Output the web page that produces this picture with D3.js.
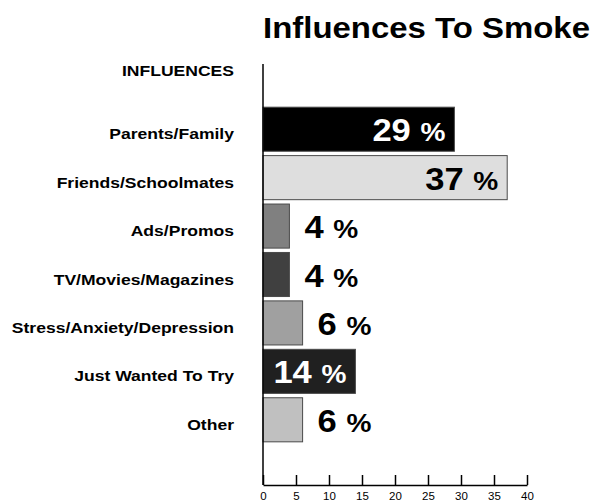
<!DOCTYPE html>
<html>
<head>
<meta charset="utf-8">
<script src="https://cdn.jsdelivr.net/npm/d3@7"></script>
<style>
  html, body { margin: 0; padding: 0; background: #fff; }
  svg { display: block; font-family: "Liberation Sans", Arial, Helvetica, sans-serif; }
</style>
</head>
<body>
<svg id="chart" width="594" height="504"></svg>
<script>
// Survey: reported influences to start smoking (percent of respondents)
const categories = [
  "Parents/Family",
  "Friends/Schoolmates",
  "Ads/Promos",
  "TV/Movies/Magazines",
  "Stress/Anxiety/Depression",
  "Just Wanted To Try",
  "Other"
];
const values = [29, 37, 4, 4, 6, 14, 6];
const fills = ["#000000", "#dedede", "#808080", "#404040", "#a0a0a0", "#202020", "#c0c0c0"];
const xTicks = [0, 5, 10, 15, 20, 25, 30, 35, 40];

const svg = d3.select("#chart");

const x = d3.scaleLinear().domain([0, 40]).range([263, 527]);
const y = d3.scaleBand().domain(categories).range([105, 444]).paddingInner(0.09).paddingOuter(0.045);

// Wide lettering: horizontally stretched type
const place = (sel, px, py, sx) => sel.attr("transform", `translate(${px},${py}) scale(${sx},1)`);

// Title, stretched to span from the axis to the right edge
const title = svg.append("text")
  .attr("font-size", 30).attr("font-weight", "bold")
  .attr("fill", "#000")
  .text("Influences To Smoke");
const tw = title.node().getComputedTextLength();
place(title, 263, 38, 327 / tw);

// Axis heading
place(svg.append("text")
  .attr("text-anchor", "end")
  .attr("font-size", 15).attr("font-weight", "bold")
  .text("INFLUENCES"), 234, 76, 1.17);

// Bars
const rows = categories.map((c, i) => ({ cat: c, value: values[i], fill: fills[i] }));

svg.append("g").selectAll("rect").data(rows).join("rect")
  .attr("x", x(0))
  .attr("y", d => y(d.cat))
  .attr("width", d => x(d.value) - x(0))
  .attr("height", y.bandwidth())
  .attr("fill", d => d.fill)
  .attr("stroke", "#4a4a4a")
  .attr("stroke-width", 1);

// Category labels
svg.append("g").selectAll("text").data(rows).join("text")
  .attr("text-anchor", "end")
  .attr("font-size", 15).attr("font-weight", "bold")
  .attr("fill", "#000")
  .attr("transform", d => `translate(234,${y(d.cat) + y.bandwidth() / 2 + 10}) scale(1.17,1)`)
  .text(d => d.cat);

// Value labels: inside long bars, outside short ones
const inside = d => d.value >= 10;
const dark = d => d3.hsl(d.fill).l < 0.5;
const vl = svg.append("g").selectAll("text").data(rows).join("text")
  .attr("transform", d => {
    const px = inside(d) ? x(d.value) - 9 : x(d.value) + 15;
    return `translate(${px},${y(d.cat) + y.bandwidth() / 2 + 12}) scale(1.08,1)`;
  })
  .attr("text-anchor", d => inside(d) ? "end" : "start")
  .attr("font-weight", "bold")
  .attr("fill", d => inside(d) && dark(d) ? "#fff" : "#000");
vl.append("tspan").attr("font-size", 32).text(d => d.value + " ");
vl.append("tspan").attr("font-size", 26).text("%");

// X axis
const axis = svg.append("g").attr("transform", "translate(0,485)")
  .call(d3.axisBottom(x).tickValues(xTicks).tickSize(-10).tickPadding(7).tickSizeOuter(0));
axis.select(".domain").attr("stroke", "#000").attr("stroke-width", 1.5);
axis.selectAll(".tick line").attr("stroke", "#000").attr("stroke-width", 1.5);
axis.selectAll(".tick text")
  .attr("font-size", 11.5)
  .attr("font-family", "Liberation Sans, Arial, sans-serif")
  .attr("fill", "#000");

// Vertical axis line
svg.append("line")
  .attr("x1", x(0)).attr("x2", x(0))
  .attr("y1", 64).attr("y2", 485)
  .attr("stroke", "#000").attr("stroke-width", 1.5);
</script>
</body>
</html>
